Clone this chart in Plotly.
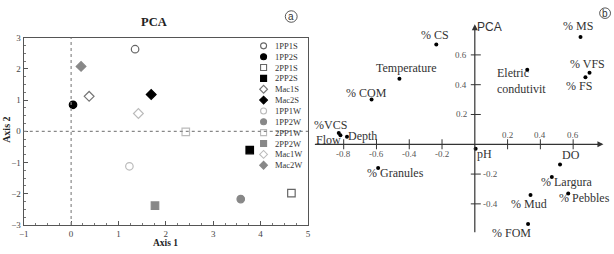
import plotly.graph_objects as go

W, H = 614, 254

# ---------------- Panel (a) data ----------------
samples = ["1PP1S", "1PP2S", "2PP1S", "2PP2S", "Mac1S", "Mac2S",
           "1PP1W", "1PP2W", "2PP1W", "2PP2W", "Mac1W", "Mac2W"]
axis1 = [1.35, 0.04, 4.65, 3.77, 0.38, 1.69, 1.23, 3.58, 2.42, 1.77, 1.42, 0.21]
axis2 = [2.63, 0.85, -1.98, -0.60, 1.12, 1.18, -1.12, -2.17, -0.02, -2.38, 0.57, 2.08]
x_ticks_a = [-1, 0, 1, 2, 3, 4, 5]
y_ticks_a = [-3, -2, -1, 0, 1, 2, 3]

# ---------------- Panel (b) data ----------------
variables = ["% MS", "% VFS", "% FS", "Eletric<br>condutivit", "% CS", "Temperature",
             "% COM", "%VCS", "Flow", "Depth", "% Granules", "pH", "DO",
             "% Largura", "% Pebbles", "% Mud", "% FOM"]
load1 = [0.645, 0.70, 0.675, 0.32, -0.235, -0.46, -0.63, -0.83, -0.82, -0.78,
         -0.59, 0.005, 0.52, 0.47, 0.57, 0.34, 0.325]
load2 = [0.72, 0.48, 0.45, 0.50, 0.67, 0.44, 0.30, 0.075, 0.06, 0.05,
         -0.16, -0.03, -0.135, -0.22, -0.33, -0.34, -0.535]
x_ticks_b = [-0.8, -0.6, -0.4, -0.2, 0.2, 0.4, 0.6]
y_ticks_b = [-0.4, -0.2, 0.2, 0.4, 0.6]

# ---------------- styles ----------------
SERIF = "Liberation Serif"
SANS = "Liberation Sans"
sym = ["circle-open", "circle", "square-open", "square", "diamond-open", "diamond",
       "circle-open", "circle", "square-open", "square", "diamond-open", "diamond"]
col = ["#666", "#000", "#666", "#000", "#777", "#000",
       "#bbb", "#888", "#bbb", "#888", "#bbb", "#888"]
# label offsets (px) for panel b: (dx, dy up)
lab_off = [(-3, 11), (-2, 9), (-6, -9), (-6, -11), (-1, 9), (7, 11), (-5, 7),
           (-8, 8), (-12, -5), (16, 1), (17, -5), (9, -5), (11, 9),
           (15, -5), (16, -5), (-2, -9), (-17, -9)]

# panel a geometry (pixels)
A_L, A_R, A_T, A_B = 19, 307, 34, 229
XA_RANGE, YA_RANGE = [-1, 5], [-3, 3]


def px(x):
    return x / W


def py(y):
    return 1 - y / H


def pix_to_a(xp, yp):
    xd = XA_RANGE[0] + (xp - A_L) / (A_R - A_L) * (XA_RANGE[1] - XA_RANGE[0])
    yd = YA_RANGE[1] - (yp - A_T) / (A_B - A_T) * (YA_RANGE[1] - YA_RANGE[0])
    return xd, yd


fig = go.Figure()

# Panel a points
for i, s in enumerate(samples):
    fig.add_trace(go.Scatter(
        x=[axis1[i]], y=[axis2[i]], mode="markers", name=s, showlegend=False,
        marker=dict(symbol=sym[i], color=col[i], size=7.5,
                    line=dict(color=col[i], width=1.2)),
        xaxis="x", yaxis="y"))

# Manual legend (compact, inside panel a)
leg_x, leg_y0, leg_dy = 262, 42.5, 11.3
lx, ly = [], []
for i in range(len(samples)):
    xd, yd = pix_to_a(leg_x, leg_y0 + i * leg_dy)
    lx.append(xd)
    ly.append(yd)
fig.add_trace(go.Scatter(
    x=lx, y=ly, mode="markers", showlegend=False, hoverinfo="skip",
    marker=dict(symbol=sym, color=col, size=6, line=dict(color=col, width=1.1)),
    xaxis="x", yaxis="y"))

annotations = []
for i, s in enumerate(samples):
    annotations.append(dict(x=px(leg_x + 10), y=py(leg_y0 + i * leg_dy), xref="paper", yref="paper",
                            text=s, showarrow=False, xanchor="left", yanchor="middle",
                            font=dict(family=SERIF, size=8.5, color="#333")))

# Panel b points
fig.add_trace(go.Scatter(
    x=load1, y=load2, mode="markers", showlegend=False,
    marker=dict(color="#000", size=4), xaxis="x2", yaxis="y2"))
for i, v in enumerate(variables):
    dx, dy = lab_off[i]
    annotations.append(dict(x=load1[i], y=load2[i], xref="x2", yref="y2", text=v,
                            showarrow=False, xshift=dx, yshift=dy,
                            xanchor="center", yanchor="middle",
                            align="left" if "<br>" in v else "center",
                            font=dict(family=SERIF, size=12, color="#333")))

# Panel b axes with arrows
annotations.append(dict(x=0.785, y=0, ax=-0.985, ay=0, xref="x2", yref="y2",
                        axref="x2", ayref="y2", text="", showarrow=True,
                        arrowhead=2, arrowsize=1, arrowwidth=1.2, arrowcolor="#333"))
annotations.append(dict(x=0, y=0.805, ax=0, ay=-0.60, xref="x2", yref="y2",
                        axref="x2", ayref="y2", text="", showarrow=True,
                        arrowhead=2, arrowsize=1, arrowwidth=1.2, arrowcolor="#333"))

shapes = []
for t in x_ticks_b:
    shapes.append(dict(type="line", xref="x2", yref="y2", x0=t, x1=t,
                       ysizemode="pixel", yanchor=0, y0=-5, y1=5,
                       line=dict(color="#333", width=1)))
    annotations.append(dict(x=t, y=0, xref="x2", yref="y2", text=f"{t:.1f}",
                            showarrow=False, yshift=9 if t > 0 else -10,
                            xanchor="center", yanchor="middle",
                            font=dict(family=SERIF, size=9, color="#555")))
for t in y_ticks_b:
    shapes.append(dict(type="line", xref="x2", yref="y2", y0=t, y1=t,
                       xsizemode="pixel", xanchor=0, x0=-4, x1=6,
                       line=dict(color="#333", width=1)))
    annotations.append(dict(x=0, y=t, xref="x2", yref="y2", text=f"{t:.1f}",
                            showarrow=False, xshift=-6 if t > 0 else 6,
                            xanchor="right" if t > 0 else "left", yanchor="middle",
                            font=dict(family=SERIF, size=9, color="#555")))

# Panel a dotted zero lines
shapes.append(dict(type="line", xref="x", yref="y domain", x0=0, x1=0, y0=0, y1=1,
                   line=dict(color="#888", width=1.2, dash="dot")))
shapes.append(dict(type="line", xref="x domain", yref="y", x0=0, x1=1, y0=0, y1=0,
                   line=dict(color="#888", width=1.2, dash="dot")))

# circled letters
for (cx, cy, r, letter) in [(290, 12, 6, "a"), (608, 8.5, 5.5, "b")]:
    shapes.append(dict(type="circle", xref="paper", yref="paper",
                       x0=px(cx - r), x1=px(cx + r), y0=py(cy + r), y1=py(cy - r),
                       line=dict(color="#444", width=0.9)))
    annotations.append(dict(x=px(cx), y=py(cy), xref="paper", yref="paper", text=letter,
                            showarrow=False, xanchor="center", yanchor="middle",
                            font=dict(family=SANS, size=10, color="#333")))

# titles
annotations += [
    dict(x=px(151), y=py(18), xref="paper", yref="paper", text="<b>PCA</b>", showarrow=False,
         xanchor="center", yanchor="middle", font=dict(family=SERIF, size=12.5, color="#222")),
    dict(x=px(163), y=0, xref="paper", yref="paper", text="<b>Axis 1</b>", showarrow=False,
         xanchor="center", yanchor="bottom", yshift=-1,
         font=dict(family=SERIF, size=9.5, color="#222")),
    dict(x=px(2), y=py(130), xref="paper", yref="paper", text="<b>Axis 2</b>", showarrow=False,
         xanchor="center", yanchor="middle",
         textangle=-90, font=dict(family=SERIF, size=10, color="#222")),
    dict(x=px(491), y=py(23), xref="paper", yref="paper", text="PCA", showarrow=False,
         xanchor="center", yanchor="middle", font=dict(family=SANS, size=12, color="#333")),
]

axis_common = dict(showline=True, mirror=True, linecolor="#555", linewidth=1.2,
                   ticks="inside", ticklen=4, tickcolor="#555", showgrid=False,
                   zeroline=False, tickfont=dict(family=SERIF, size=9, color="#444"),
                   minor=dict(ticks="inside", ticklen=2, tickcolor="#777", showgrid=False),
                   fixedrange=True)

fig.update_layout(
    width=W, height=H, margin=dict(l=0, r=0, t=0, b=0),
    paper_bgcolor="white", plot_bgcolor="rgba(0,0,0,0)", showlegend=False,
    xaxis=dict(domain=[px(A_L), px(A_R)], range=XA_RANGE, tickvals=x_ticks_a,
               minor_dtick=0.25, anchor="y", ticklabelstandoff=0, **axis_common),
    yaxis=dict(domain=[py(A_B), py(A_T)], range=YA_RANGE, tickvals=y_ticks_a,
               minor_dtick=0.25, anchor="x", **axis_common),
    xaxis2=dict(domain=[px(300), 1], range=[-1.060, 0.831], visible=False, anchor="y2",
                fixedrange=True),
    yaxis2=dict(domain=[0, 1], range=[-0.703, 0.935], visible=False, anchor="x2",
                fixedrange=True),
    annotations=annotations, shapes=shapes,
)

fig.write_html("out.html")
